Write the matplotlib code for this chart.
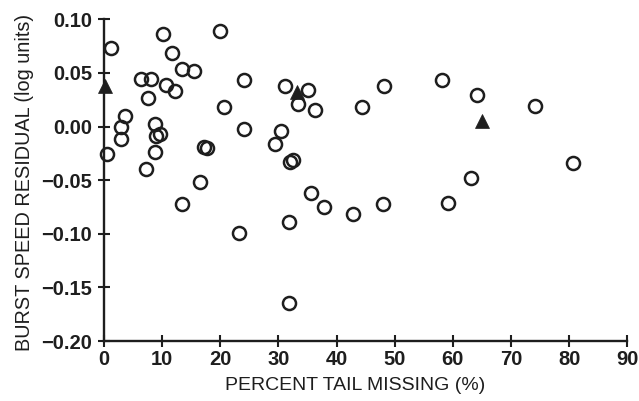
import matplotlib
matplotlib.use("Agg")
import matplotlib.pyplot as plt

# Open circles
circle_x = [1.15, 0.45, 3.0, 3.6, 2.9, 6.3, 8.0, 7.5, 7.2, 8.8, 8.9, 9.6, 8.8,
            10.1, 10.7, 11.75, 12.2, 13.4, 15.5, 13.4, 16.5, 17.2, 17.7, 20.0,
            20.7, 24.0, 24.0, 23.3, 29.4, 30.4, 31.1, 31.9, 32.5, 31.8, 31.8,
            33.4, 35.1, 36.2, 35.6, 37.9, 42.9, 44.4, 47.9, 48.2, 58.2, 59.2,
            63.1, 64.1, 74.1, 80.6]
circle_y = [0.073, -0.026, 0.000, 0.010, -0.0115, 0.044, 0.044, 0.027, -0.0395,
            0.002, -0.009, -0.007, -0.024, 0.086, 0.039, 0.069, 0.033, 0.054,
            0.052, -0.072, -0.052, -0.019, -0.020, 0.089, 0.018, 0.043, -0.0025,
            -0.099, -0.016, -0.0044, 0.0377, -0.033, -0.031, -0.089, -0.165,
            0.021, 0.0336, 0.015, -0.062, -0.075, -0.082, 0.018, -0.072, 0.038,
            0.0436, -0.071, -0.048, 0.029, 0.0187, -0.034]

# Filled triangles
tri_x = [0.2, 33.2, 65.0]
tri_y = [0.038, 0.032, 0.005]

xticks = [0, 10, 20, 30, 40, 50, 60, 70, 80, 90]
yticks = [0.10, 0.05, 0.00, -0.05, -0.10, -0.15, -0.20]
ytick_labels = ["0.10", "0.05", "0.00", "\u22120.05", "\u22120.10", "\u22120.15", "\u22120.20"]

INK = "#1e1e1e"
FONT = "Liberation Sans"

fig = plt.figure(figsize=(6.39, 4.01), dpi=100)
ax = fig.add_axes([0.1628, 0.1496, 0.8189, 0.8023])

ax.plot(circle_x, circle_y, linestyle="none", marker="o", markersize=9.4,
        markerfacecolor="none", markeredgecolor=INK, markeredgewidth=1.8,
        clip_on=False, zorder=3)
ax.plot(tri_x, tri_y, linestyle="none", marker="^", markersize=10.5,
        markerfacecolor=INK, markeredgecolor=INK, markeredgewidth=0.5,
        clip_on=False, zorder=4)

ax.set_xlim(0, 90)
ax.set_ylim(-0.20, 0.10)
ax.set_xticks(xticks)
ax.set_xticklabels([str(v) for v in xticks])
ax.set_yticks(yticks)
ax.set_yticklabels(ytick_labels)

for s in ["top", "right"]:
    ax.spines[s].set_visible(False)
for s in ["left", "bottom"]:
    ax.spines[s].set_linewidth(1.7)
    ax.spines[s].set_color(INK)

ax.tick_params(direction="inout", length=9, width=1.5, colors=INK)
ax.tick_params(axis="y", pad=4)
ax.tick_params(axis="x", pad=2)
for lab in ax.get_xticklabels() + ax.get_yticklabels():
    lab.set_fontfamily(FONT)
    lab.set_fontsize(14.5)
    lab.set_fontweight("bold")
    lab.set_color(INK)

fig.text(0.5555, 0.018, "PERCENT TAIL MISSING (%)", ha="center", va="bottom",
         fontfamily=FONT, fontsize=14, color=INK)
fig.text(0.039, 0.545, "BURST SPEED RESIDUAL (log units)", ha="center", va="center",
         rotation=90, fontfamily=FONT, fontsize=14.3, color=INK)

fig.savefig("out.png", dpi=100)
